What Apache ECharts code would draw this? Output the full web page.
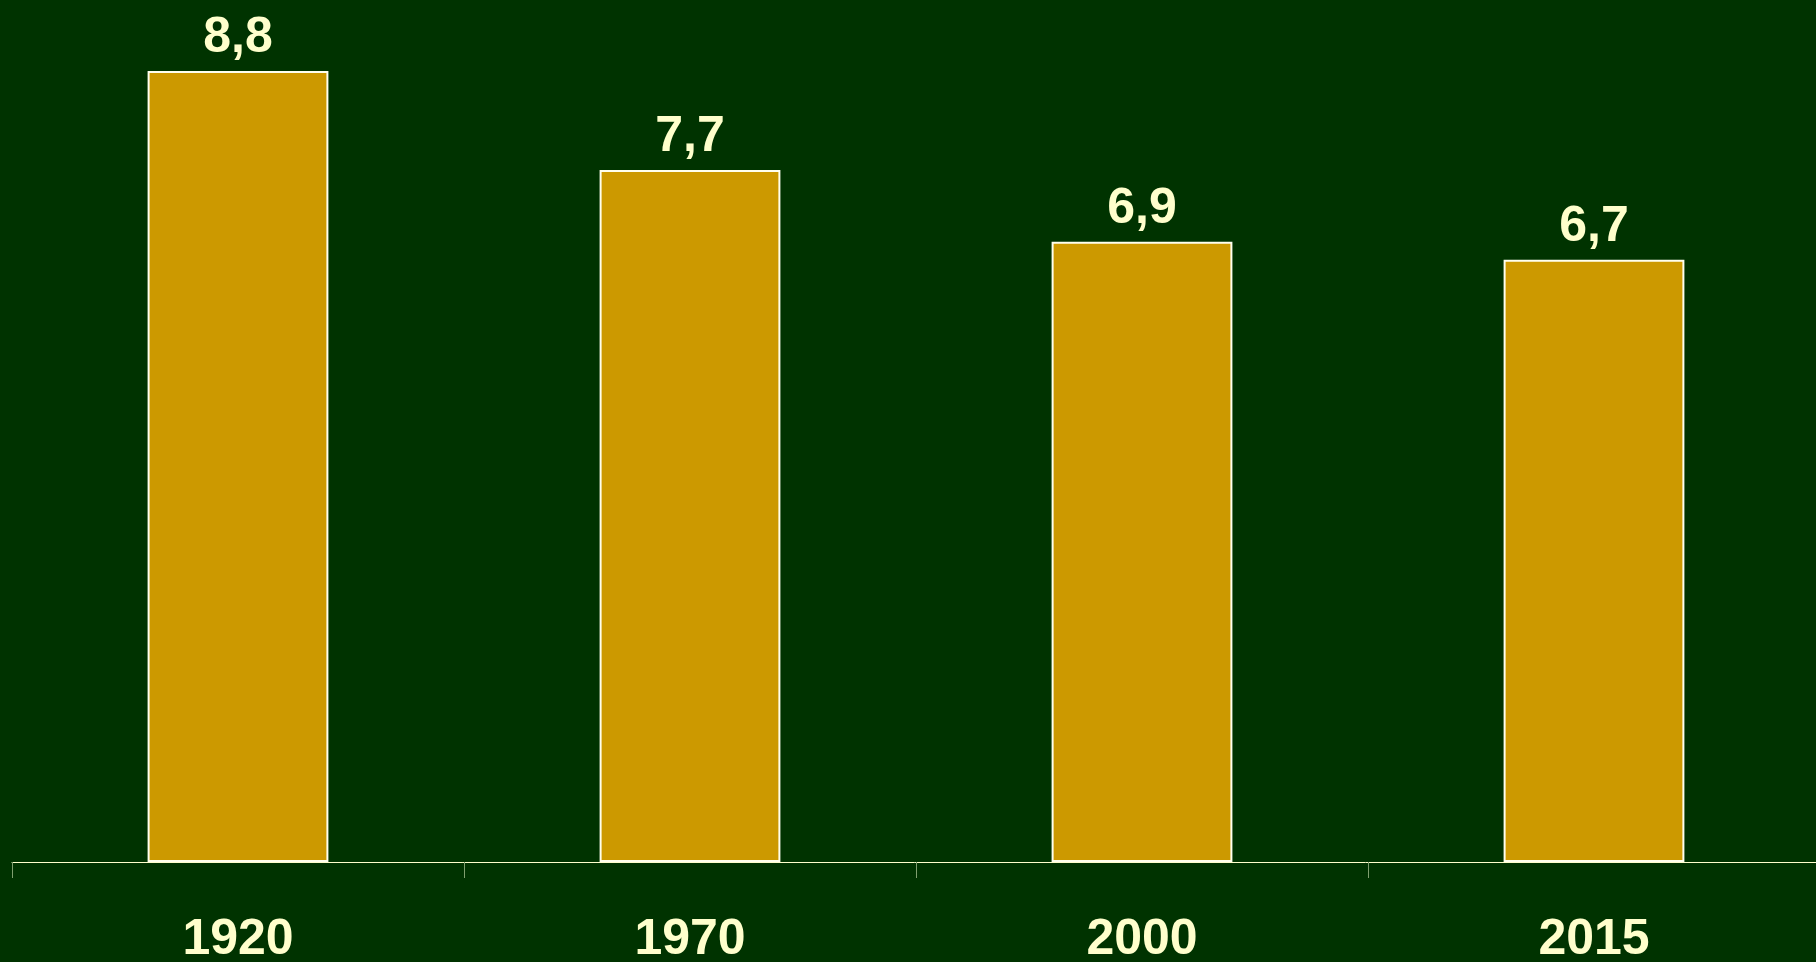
<!DOCTYPE html>
<html><head><meta charset="utf-8">
<script src="https://cdn.jsdelivr.net/npm/echarts@6/dist/echarts.min.js"></script>
<style>html,body{margin:0;padding:0;background:#003300;}#c{width:1816px;height:962px;}</style>
</head><body><div id="c"></div>
<script>
const categories = ['1920', '1970', '2000', '2015'];
const values = [8.8, 7.7, 6.9, 6.7];
const valueLabels = ['8,8', '7,7', '6,9', '6,7'];

const chart = echarts.init(document.getElementById('c'));
chart.setOption({
  backgroundColor: '#003300',
  animation: false,
  grid: { left: 12, top: 71, width: 1808, bottom: 100, containLabel: false, outerBoundsMode: 'none' },
  xAxis: {
    type: 'category', data: categories,
    axisLine: { lineStyle: { color: '#FFFFCC', width: 1 } },
    axisTick: { show: true, length: 16, lineStyle: { color: '#7f9f6f', width: 1 } },
    axisLabel: { color: '#FFFFCC', fontFamily: 'Liberation Sans, Arial', fontWeight: 'bold', fontSize: 50, margin: 53 }
  },
  yAxis: { type: 'value', min: 0, max: 8.8, show: false, splitLine: { show: false } },
  series: [{
    type: 'bar', data: values, barWidth: '40%',
    itemStyle: { color: '#CC9900', borderColor: '#FFFFEE', borderWidth: 2 },
    label: {
      show: true, position: 'top', distance: 8,
      formatter: p => valueLabels[p.dataIndex],
      color: '#FFFFCC', fontFamily: 'Liberation Sans, Arial', fontWeight: 'bold', fontSize: 50
    }
  }]
});
</script></body></html>
